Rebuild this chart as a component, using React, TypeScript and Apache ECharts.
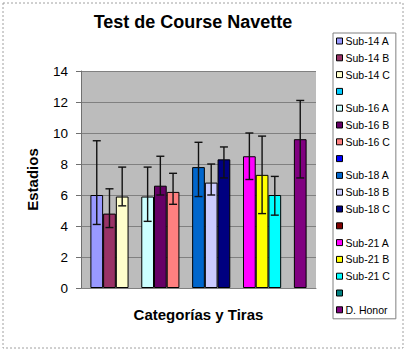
import React, { useEffect, useRef } from "react";
import * as echarts from "echarts";

const categories = [""];
const seriesNames = [
  "Sub-14 A", "Sub-14 B", "Sub-14 C", " ",
  "Sub-16 A", "Sub-16 B", "Sub-16 C", "  ",
  "Sub-18 A", "Sub-18 B", "Sub-18 C", "   ",
  "Sub-21 A", "Sub-21 B", "Sub-21 C", "    ",
  "D. Honor",
];
const values: (number | null)[] = [
  6.0, 4.8, 5.9, null,
  5.9, 6.6, 6.2, null,
  7.8, 6.8, 8.3, null,
  8.5, 7.3, 6.0, null,
  9.6,
];
const errLow: (number | null)[] = [
  4.1, 3.9, 5.3, null,
  4.3, 6.0, 5.4, null,
  5.9, 6.0, 7.1, null,
  7.0, 4.8, 4.7, null,
  7.1,
];
const errHigh: (number | null)[] = [
  9.5, 6.4, 7.8, null,
  7.8, 8.5, 7.4, null,
  9.4, 8.0, 9.1, null,
  10.0, 9.8, 7.2, null,
  12.1,
];
const colors = [
  "#9999FF", "#993366", "#FFFFCC", "#00CCFF",
  "#CCFFFF", "#660066", "#FF8080", "#0000FF",
  "#0066CC", "#CCCCFF", "#000080", "#800000",
  "#FF00FF", "#FFFF00", "#00FFFF", "#008080",
  "#800080",
];
const yTicks = { min: 0, max: 14, interval: 2 };

const FONT = "'Liberation Sans', Arial, sans-serif";
const CAT_GAP = 0.08;

export default function App() {
  const ref = useRef<HTMLDivElement>(null);
  useEffect(() => {
    if (!ref.current) return;
    const chart = echarts.init(ref.current, undefined, { renderer: "svg" });
    const n = seriesNames.length;
    const barSeries = seriesNames.map((name, i) => ({
      name,
      type: "bar",
      barGap: "0%",
      barCategoryGap: CAT_GAP * 100 + "%",
      data: [values[i] === null ? "-" : values[i]],
      itemStyle: { color: colors[i], borderColor: "#000", borderWidth: 1 },
      z: 2,
    }));
    const errData = values
      .map((v, i) => (v === null ? null : [0, errLow[i], errHigh[i], i]))
      .filter((d) => d !== null);
    const errSeries = {
      type: "custom",
      name: "err",
      z: 5,
      silent: true,
      encode: { x: 0, y: [1, 2] },
      data: errData,
      renderItem: (params: any, api: any) => {
        const idx = api.value(3);
        const center = api.coord([api.value(0), 0])[0];
        const band = api.size([1, 0])[0];
        const total = band * (1 - CAT_GAP);
        const bw = total / n;
        const x = center - total / 2 + bw * (idx + 0.5);
        const yl = api.coord([0, api.value(1)])[1];
        const yh = api.coord([0, api.value(2)])[1];
        const cap = 4;
        const style = { stroke: "#111", lineWidth: 1.4 };
        return {
          type: "group",
          children: [
            { type: "line", shape: { x1: x, y1: yl, x2: x, y2: yh }, style },
            { type: "line", shape: { x1: x - cap, y1: yh, x2: x + cap, y2: yh }, style },
            { type: "line", shape: { x1: x - cap, y1: yl, x2: x + cap, y2: yl }, style },
          ],
        };
      },
    };
    chart.setOption({
      animation: false,
      textStyle: { fontFamily: FONT },
      grid: {
        left: 81,
        right: 92,
        top: 71,
        bottom: 63,
        show: true,
        backgroundColor: "#bcbcbc",
        borderWidth: 0,
      },
      graphic: [
        {
          type: "rect",
          shape: { x: 3, y: 3, width: 400, height: 345 },
          style: { fill: "none", stroke: "#a0a0a0", lineWidth: 1, lineDash: [2, 2] },
          silent: true,
        },
        {
          type: "text",
          x: 193,
          y: 22,
          style: {
            text: "Test de Course Navette",
            font: "bold 18px " + FONT,
            fill: "#000",
            textAlign: "center",
            textVerticalAlign: "middle",
          },
        },
      ],
      legend: {
        orient: "vertical",
        left: 333,
        top: 33,
        padding: [2, 6, 3, 3],
        itemWidth: 6,
        itemHeight: 6,
        itemGap: 4.8,
        icon: "rect",
        backgroundColor: "#fff",
        borderColor: "#808080",
        borderWidth: 1,
        borderRadius: 0,
        selectedMode: false,
        itemStyle: { borderColor: "#000", borderWidth: 1 },
        textStyle: { fontFamily: FONT, fontSize: 10.5, color: "#000", lineHeight: 12, padding: [0, 0, 0, -2] },
        data: seriesNames,
      },
      xAxis: {
        type: "category",
        data: categories,
        name: "Categorías y Tiras",
        nameLocation: "middle",
        nameGap: 19,
        nameTextStyle: { fontFamily: FONT, fontSize: 15, fontWeight: "bold", color: "#000" },
        axisLine: { show: true, lineStyle: { color: "#808080", width: 1 } },
        axisTick: { show: false },
        axisLabel: { show: false },
      },
      yAxis: {
        type: "value",
        min: yTicks.min,
        max: yTicks.max,
        interval: yTicks.interval,
        name: "Estadios",
        nameLocation: "middle",
        nameGap: 41,
        nameRotate: 90,
        nameTextStyle: { fontFamily: FONT, fontSize: 15, fontWeight: "bold", color: "#000" },
        axisLine: { show: true, lineStyle: { color: "#707070", width: 1 } },
        axisTick: { show: true, length: 5, lineStyle: { color: "#707070" } },
        axisLabel: { margin: 13, fontSize: 13.5, color: "#000", fontFamily: FONT },
        splitLine: { show: true, lineStyle: { color: "#808080", width: 1 } },
      },
      series: [...barSeries, errSeries],
    });
    return () => chart.dispose();
  }, []);
  return (
    <div
      ref={ref}
      style={{ position: "absolute", left: 0, top: 0, width: 408, height: 351, background: "#fff" }}
    />
  );
}
